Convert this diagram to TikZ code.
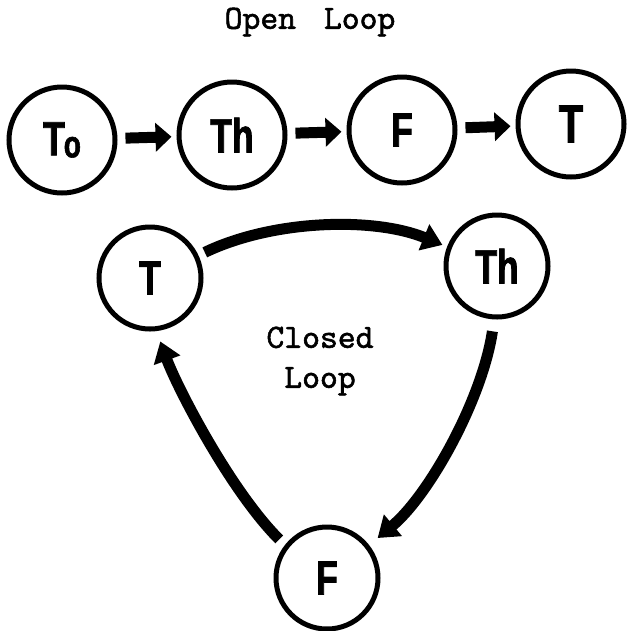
\documentclass[tikz,border=0pt]{standalone}
\usepackage{fontspec}
\usetikzlibrary{arrows.meta}
\newfontfamily\labfont[FakeStretch=0.74,FakeBold=1.5]{Liberation Sans Bold}
\newfontfamily\typefont[FakeBold=1.6]{lmmono10-regular.otf}
\begin{document}
\begin{tikzpicture}[x=1pt,y=-1pt,
  ring/.style={circle, draw, line width=5pt, minimum size=106pt, inner sep=0pt,
    font=\labfont\fontsize{48}{48}\selectfont},
  sring/.style={ring, minimum size=102pt},
  flow/.style={line width=11pt, -{Triangle[length=16pt,width=28pt]}},
  cflow/.style={line width=11pt, -{Triangle[length=20pt,width=27pt]}},
  caption/.style={font=\typefont\fontsize{34}{40}\selectfont, align=center, inner sep=0pt}]
\fill[white] (0,0) rectangle (631,630);
\useasboundingbox (0,0) rectangle (631,630);
% open loop
\node[caption] (open) at (310,22) {Open\hspace{10pt} Loop};
\node[ring] (to) at (62,140) {T\kern-1pt\raisebox{-2pt}{\fontsize{38}{38}\selectfont o}};
\node[ring] (th) at (232,135) {Th};
\node[ring] (f)  at (402,130) {F};
\node[ring] (t)  at (571,124) {\fontsize{54}{54}\selectfont T};
\draw[flow, shorten <=8pt, shorten >=5pt] (to) -- (th);
\draw[flow, shorten <=8pt, shorten >=5pt] (th) -- (f);
\draw[flow, shorten <=8pt, shorten >=5pt] (f) -- (t);
% closed loop
\node[sring] (ct)  at (150,278) {T};
\node[sring] (cth) at (497,266) {Th};
\node[sring] (cf)  at (327,578) {F};
\node[caption] (closed) at (320,361) {Closed\\Loop};
\draw[cflow, shorten <=7pt, shorten >=5pt] (ct.25) .. controls +(75,-36) and +(-73,-30) .. (cth.159);
\draw[cflow, shorten <=12pt, shorten >=11pt] (cth.267) .. controls +(-12,80) and +(60,-50) .. (cf.38);
\draw[cflow, shorten <=8pt, shorten >=11pt] (cf.142) .. controls +(-55,-55) and +(20,55) .. (ct.277);
\end{tikzpicture}
\end{document}
